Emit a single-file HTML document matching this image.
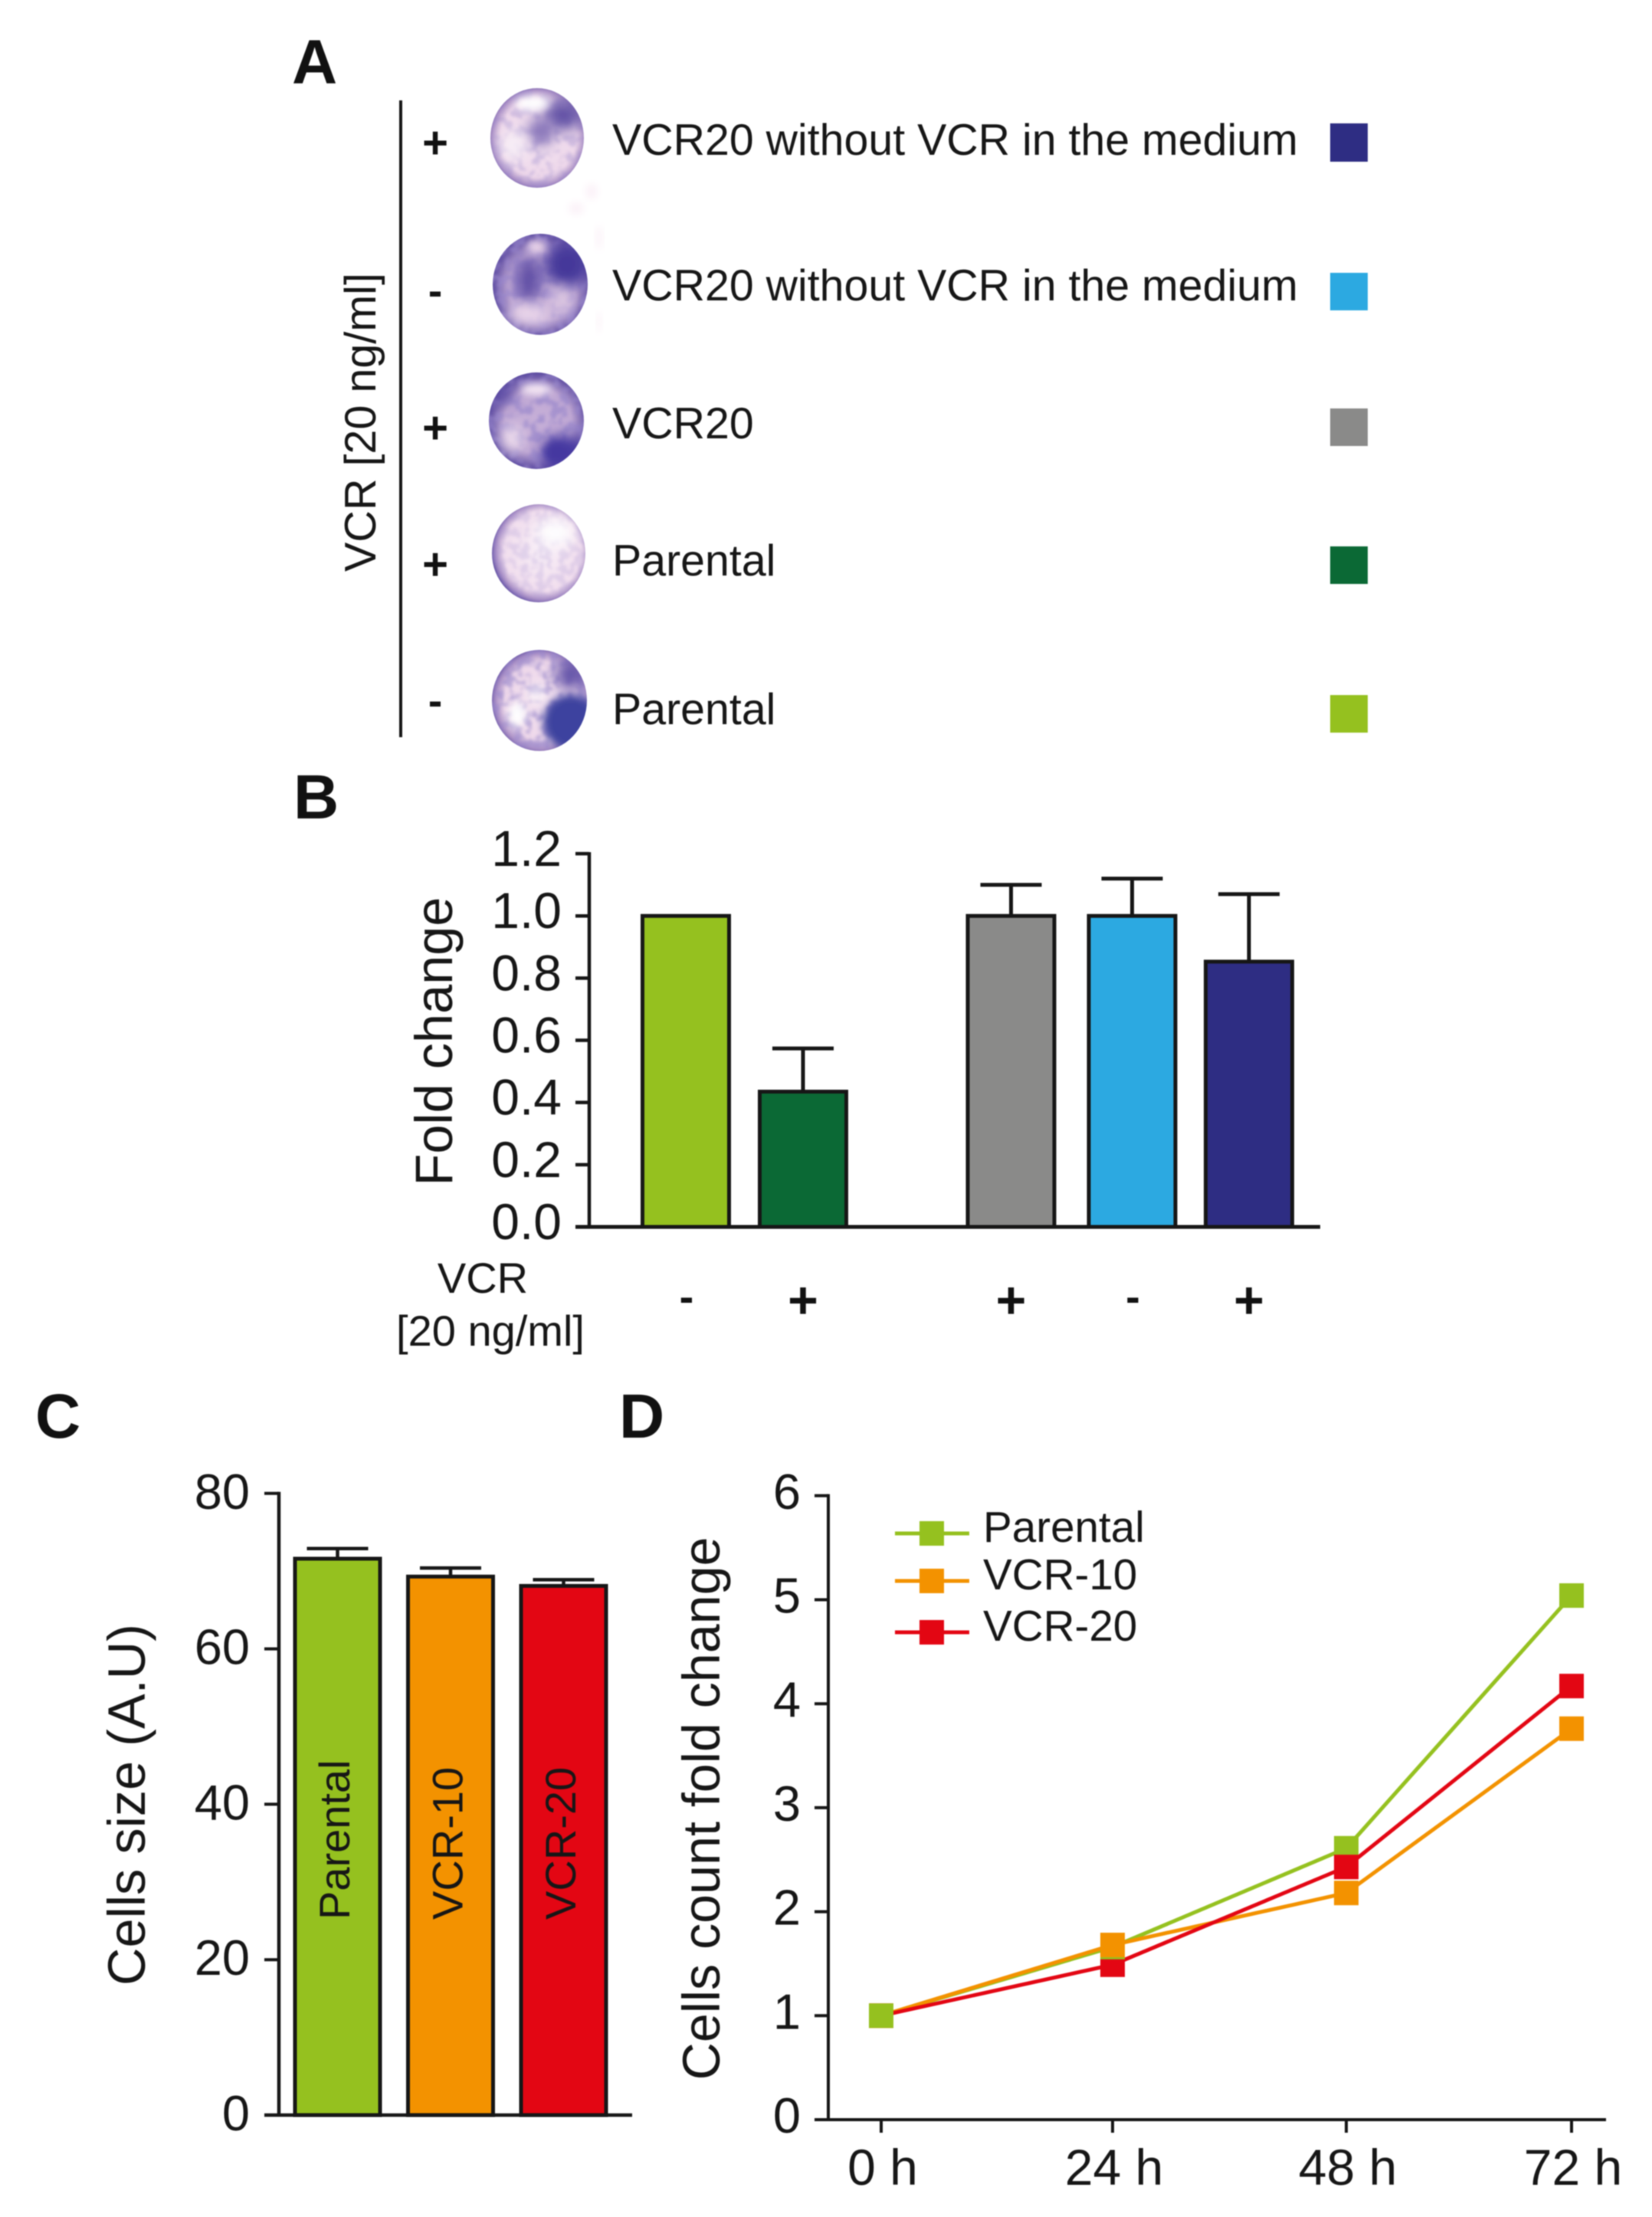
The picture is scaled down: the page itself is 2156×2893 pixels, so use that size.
<!DOCTYPE html>
<html lang="en">
<head>
<meta charset="utf-8">
<title>VCR resistance figure</title>
<style>
html,body{margin:0;padding:0;background:#fff;}
svg{display:block;filter:blur(0.9px);}
text{font-family:"Liberation Sans",Arial,sans-serif;fill:#161616;}
.panel{font-weight:bold;font-size:82px;fill:#111;}
.mark{font-weight:bold;text-anchor:middle;fill:#111;}
</style>
</head>
<body>
<svg id="figure" xmlns="http://www.w3.org/2000/svg" width="2156" height="2893" viewBox="0 0 2156 2893">
<defs>
  <filter id="soft" x="-40%" y="-40%" width="180%" height="180%"><feGaussianBlur stdDeviation="9"/></filter>
  <filter id="softer" x="-40%" y="-40%" width="180%" height="180%"><feGaussianBlur stdDeviation="5"/></filter>
  <filter id="edge" x="-5%" y="-5%" width="110%" height="110%"><feGaussianBlur stdDeviation="1.4"/></filter>
  <filter id="mottle" x="0" y="0" width="100%" height="100%">
    <feTurbulence type="fractalNoise" baseFrequency="0.085" numOctaves="2" seed="7"/>
    <feColorMatrix type="matrix" values="0 0 0 0 0.31  0 0 0 0 0.24  0 0 0 0 0.6  0 0 0 5 -2.2"/>
    <feGaussianBlur stdDeviation="1.2"/>
  </filter>
  <filter id="mottle2" x="0" y="0" width="100%" height="100%">
    <feTurbulence type="fractalNoise" baseFrequency="0.1" numOctaves="2" seed="23"/>
    <feColorMatrix type="matrix" values="0 0 0 0 0.33  0 0 0 0 0.25  0 0 0 0 0.62  0 0 0 6 -2.5"/>
    <feGaussianBlur stdDeviation="1.2"/>
  </filter>
  <radialGradient id="dishLight" cx="50%" cy="50%" r="50%">
    <stop offset="0" stop-color="#f4e3f0"/><stop offset="0.68" stop-color="#eed8ea"/>
    <stop offset="0.84" stop-color="#a78cc4"/><stop offset="0.95" stop-color="#5a4aa1"/><stop offset="1" stop-color="#4b3e97"/>
  </radialGradient>
  <radialGradient id="dishMid" cx="50%" cy="50%" r="50%">
    <stop offset="0" stop-color="#c7b0d8"/><stop offset="0.6" stop-color="#bfa7d3"/>
    <stop offset="0.84" stop-color="#6c59a9"/><stop offset="1" stop-color="#473a96"/>
  </radialGradient>
  <radialGradient id="dishPale" cx="52%" cy="48%" r="50%">
    <stop offset="0" stop-color="#f8eef7"/><stop offset="0.72" stop-color="#f2dfee"/>
    <stop offset="0.87" stop-color="#a68cc4"/><stop offset="0.96" stop-color="#5a4aa1"/><stop offset="1" stop-color="#4b3e97"/>
  </radialGradient>
  <clipPath id="clip1"><ellipse cx="701" cy="180" rx="61" ry="65"/></clipPath>
  <clipPath id="clip2"><ellipse cx="705" cy="371" rx="62" ry="66"/></clipPath>
  <clipPath id="clip3"><ellipse cx="700" cy="549" rx="62" ry="63"/></clipPath>
  <clipPath id="clip4"><ellipse cx="703" cy="722" rx="61" ry="64"/></clipPath>
  <clipPath id="clip5"><ellipse cx="704" cy="914" rx="62" ry="66"/></clipPath>
</defs>
<rect width="2156" height="2893" fill="#fff"/>

<!-- Panel A -->
<g>
  <text class="panel" x="381" y="109">A</text>
  <text font-size="57.5" text-anchor="middle" transform="translate(490 551) rotate(-90)">VCR [20 ng/ml]</text>
  <line x1="523" y1="131" x2="523" y2="962" stroke="#161616" stroke-width="4"/>

  <g fill="#f8e6f2" opacity="0.55">
    <ellipse cx="772" cy="250" rx="8" ry="10" filter="url(#softer)"/>
    <ellipse cx="752" cy="272" rx="10" ry="8" filter="url(#softer)"/>
    <ellipse cx="782" cy="310" rx="4" ry="16" filter="url(#softer)"/>
    <ellipse cx="782" cy="420" rx="3" ry="14" filter="url(#softer)"/>
  </g>

  <g clip-path="url(#clip1)">
    <g filter="url(#edge)">
      <rect x="630" y="105" width="145" height="150" fill="url(#dishLight)"/>
      <rect x="630" y="105" width="145" height="150" filter="url(#mottle)" opacity="0.35"/>
      <ellipse cx="735" cy="150" rx="26" ry="20" fill="#6452a6" filter="url(#soft)"/>
      <ellipse cx="706" cy="172" rx="18" ry="18" fill="#8673b8" filter="url(#soft)"/>
      <ellipse cx="695" cy="135" rx="22" ry="9" fill="#fff" filter="url(#softer)"/>
      <ellipse cx="670" cy="190" rx="16" ry="20" fill="#f8eff7" filter="url(#soft)"/>
    </g>
  </g>
  <g clip-path="url(#clip2)">
    <g filter="url(#edge)">
      <rect x="635" y="298" width="145" height="150" fill="url(#dishMid)"/>
      <rect x="635" y="298" width="145" height="150" filter="url(#mottle2)" opacity="0.6"/>
      <ellipse cx="740" cy="345" rx="30" ry="30" fill="#44399a" filter="url(#soft)"/>
      <ellipse cx="690" cy="365" rx="16" ry="30" fill="#5e4ea4" filter="url(#soft)"/>
      <ellipse cx="690" cy="410" rx="28" ry="13" fill="#f0dcec" filter="url(#soft)"/>
      <ellipse cx="700" cy="322" rx="12" ry="8" fill="#eed8ea" filter="url(#softer)"/>
      <ellipse cx="733" cy="392" rx="12" ry="18" fill="#e2cde4" filter="url(#soft)"/>
    </g>
  </g>
  <g clip-path="url(#clip3)">
    <g filter="url(#edge)">
      <rect x="630" y="480" width="145" height="140" fill="url(#dishMid)"/>
      <rect x="630" y="480" width="145" height="140" filter="url(#mottle)" opacity="0.65"/>
      <ellipse cx="735" cy="590" rx="28" ry="22" fill="#4438a0" filter="url(#soft)"/>
      <ellipse cx="725" cy="590" rx="14" ry="14" fill="#4438a0" filter="url(#softer)"/>
      <ellipse cx="700" cy="508" rx="20" ry="7" fill="#f8ebf5" filter="url(#softer)"/>
      <ellipse cx="668" cy="572" rx="13" ry="18" fill="#f2e2ef" filter="url(#soft)"/>
      <ellipse cx="652" cy="512" rx="16" ry="14" fill="#5a4aa2" filter="url(#soft)"/>
    </g>
  </g>
  <g clip-path="url(#clip4)">
    <g filter="url(#edge)">
      <rect x="635" y="650" width="140" height="145" fill="url(#dishPale)"/>
      <rect x="635" y="650" width="140" height="145" filter="url(#mottle2)" opacity="0.22"/>
      <ellipse cx="725" cy="695" rx="24" ry="18" fill="#fff" filter="url(#soft)"/>
    </g>
  </g>
  <g clip-path="url(#clip5)">
    <g filter="url(#edge)">
      <rect x="635" y="840" width="145" height="150" fill="url(#dishLight)"/>
      <rect x="635" y="840" width="145" height="150" filter="url(#mottle)" opacity="0.6"/>
      <ellipse cx="745" cy="942" rx="36" ry="36" fill="#3c439f" filter="url(#softer)"/>
      <ellipse cx="745" cy="880" rx="20" ry="20" fill="#6353a8" filter="url(#soft)"/>
      <ellipse cx="675" cy="932" rx="11" ry="16" fill="#fff" filter="url(#softer)"/>
      <ellipse cx="700" cy="905" rx="12" ry="12" fill="#fff" filter="url(#softer)" opacity="0.5"/>
    </g>
  </g>

  <g font-size="58">
    <text class="mark" x="568" y="206">+</text>
    <text class="mark" x="568" y="398" font-size="55">-</text>
    <text class="mark" x="568" y="578">+</text>
    <text class="mark" x="568" y="756">+</text>
    <text class="mark" x="568" y="933" font-size="55">-</text>
  </g>
  <g font-size="57.3">
    <text x="799" y="202">VCR20 without VCR in the medium</text>
    <text x="799" y="392">VCR20 without VCR in the medium</text>
    <text x="799" y="572">VCR20</text>
    <text x="799" y="751">Parental</text>
    <text x="799" y="945">Parental</text>
  </g>
  <rect x="1736" y="161" width="49" height="50" fill="#2e2d83"/>
  <rect x="1736" y="356" width="49" height="49" fill="#2ca9e1"/>
  <rect x="1736" y="533" width="49" height="49" fill="#8a8a89"/>
  <rect x="1736" y="713" width="49" height="49" fill="#0b6935"/>
  <rect x="1736" y="907" width="49" height="49" fill="#95c11f"/>
</g>

<!-- Static labels for panels B, C, D -->
<text class="panel" x="383" y="1068">B</text>
<text class="panel" x="46" y="1876">C</text>
<text class="panel" x="808" y="1876">D</text>
<g id="panelB"></g>
<g id="panelC"></g>
<g id="panelD"></g>
</svg>

<script>
// Panel B data
const bCategories = ['parental-no-vcr', 'parental-vcr', 'vcr20-vcr', 'vcr20-no-vcr', 'vcr20-withdrawn-vcr'];
const bValues = [1.0, 0.435, 1.0, 1.0, 0.853];
const bErrorTops = [1.0, 0.574, 1.10, 1.12, 1.07];
const bTreatment = ['-', '+', '+', '-', '+'];
const bColors = ['#95c11f', '#0b6935', '#8a8a89', '#2ca9e1', '#2e2d83'];
const bTickLabels = ['0.0', '0.2', '0.4', '0.6', '0.8', '1.0', '1.2'];

// Panel C data
const cCategories = ['Parental', 'VCR-10', 'VCR-20'];
const cValues = [71.6, 69.3, 68.1];
const cErrorTops = [72.9, 70.4, 68.9];
const cColors = ['#95c11f', '#f39200', '#e30613'];
const cTickLabels = ['0', '20', '40', '60', '80'];

// Panel D data
const dTimes = ['0 h', '24 h', '48 h', '72 h'];
const dParental = [1.0, 1.66, 2.61, 5.04];
const dVcr10 = [1.0, 1.68, 2.18, 3.76];
const dVcr20 = [1.0, 1.49, 2.43, 4.17];
const dSeriesNames = ['Parental', 'VCR-10', 'VCR-20'];
const dSeriesColors = ['#95c11f', '#f39200', '#e30613'];
const dTickLabels = ['0', '1', '2', '3', '4', '5', '6'];
// which series is painted on top at each time point (last = topmost)
const dStackOrder = [[2, 1, 0], [2, 0, 1], [0, 1, 2], [0, 1, 2]];

const NS = 'http://www.w3.org/2000/svg';
const INK = '#161616';

function make(parent, tag, attrs, content) {
  const el = document.createElementNS(NS, tag);
  for (const k in attrs) el.setAttribute(k, attrs[k]);
  if (content !== undefined) el.textContent = content;
  parent.appendChild(el);
  return el;
}

// ---------- Panel B ----------
const pb = document.getElementById('panelB');
function yB(v) { return 1601 - v * 405.8; }
function xB(i) { const centers = [895, 1048, 1319.5, 1477.5, 1630]; return centers[i]; }

bCategories.forEach(function (name, i) {
  const cx = xB(i);
  if (bErrorTops[i] > bValues[i]) {
    const stem = make(pb, 'line', {x1: cx, x2: cx, y1: yB(bValues[i]), y2: yB(bErrorTops[i]), stroke: INK, 'stroke-width': 5});
    
    
    const cap = make(pb, 'line', {x1: cx - 40, x2: cx + 40, y1: yB(bErrorTops[i]), y2: yB(bErrorTops[i]), stroke: INK, 'stroke-width': 5});
    
    
  }
  const bar = make(pb, 'rect', {x: cx - 56.5, width: 113, y: yB(bValues[i]), height: yB(0) - yB(bValues[i]), fill: bColors[i], stroke: INK, 'stroke-width': 5});
  
  
  const isPlus = bTreatment[i] === '+';
  const sign = make(pb, 'text', {x: cx + (isPlus ? 0 : 1), y: isPlus ? 1720 : 1711, 'font-size': isPlus ? 68 : 56, class: 'mark'}, bTreatment[i]);
  
  
});

const bYAxis = make(pb, 'line', {x1: 769, x2: 769, y1: yB(1.2) - 2, y2: yB(0), stroke: INK, 'stroke-width': 4.5});


const bXAxis = make(pb, 'line', {x1: 751, x2: 1723, y1: yB(0), y2: yB(0), stroke: INK, 'stroke-width': 5});



bTickLabels.forEach(function (label) {
  const v = parseFloat(label);
  const tick = make(pb, 'line', {x1: 751, x2: 769, y1: yB(v), y2: yB(v), stroke: INK, 'stroke-width': 4.5});
  
  
  const t = make(pb, 'text', {x: 733, y: yB(v) + 16, 'font-size': 66, 'text-anchor': 'end'}, label);
  
  
});

const bTitle = make(pb, 'text', {transform: 'translate(590 1359) rotate(-90)', 'font-size': 68.5, 'text-anchor': 'middle'}, 'Fold change');


const bVcr = make(pb, 'text', {x: 630, y: 1687, 'font-size': 56, 'text-anchor': 'middle'}, 'VCR');


const bDose = make(pb, 'text', {x: 640, y: 1756, 'font-size': 56, 'text-anchor': 'middle'}, '[20 ng/ml]');



// ---------- Panel C ----------
const pc = document.getElementById('panelC');
function yC(v) { return 2760 - v * 10.14; }
function xC(i) { return 440.5 + i * 147.5; }

cCategories.forEach(function (name, i) {
  const cx = xC(i);
  const slug = name.toLowerCase();
  const stem = make(pc, 'line', {x1: cx, x2: cx, y1: yC(cValues[i]), y2: yC(cErrorTops[i]), stroke: INK, 'stroke-width': 4.5});
  
  
  const cap = make(pc, 'line', {x1: cx - 40, x2: cx + 40, y1: yC(cErrorTops[i]), y2: yC(cErrorTops[i]), stroke: INK, 'stroke-width': 4.5});
  
  
  const bar = make(pc, 'rect', {x: cx - 55.5, width: 111, y: yC(cValues[i]), height: yC(0) - yC(cValues[i]), fill: cColors[i], stroke: INK, 'stroke-width': 5});
  
  
  const label = make(pc, 'text', {transform: 'translate(' + (cx + 15.5) + ' 2505) rotate(-90)', 'font-size': 56}, name);
  
  
});

const cYAxis = make(pc, 'line', {x1: 364, x2: 364, y1: yC(80) - 2, y2: yC(0), stroke: INK, 'stroke-width': 4.5});


const cXAxis = make(pc, 'line', {x1: 345, x2: 825, y1: yC(0), y2: yC(0), stroke: INK, 'stroke-width': 4.5});



cTickLabels.forEach(function (label) {
  const v = parseFloat(label);
  const tick = make(pc, 'line', {x1: 345, x2: 364, y1: yC(v), y2: yC(v), stroke: INK, 'stroke-width': 4});
  
  
  const t = make(pc, 'text', {x: 326, y: yC(v) + 20, 'font-size': 65, 'text-anchor': 'end'}, label);
  
  
});

const cTitle = make(pc, 'text', {transform: 'translate(189 2355) rotate(-90)', 'font-size': 68.5, 'text-anchor': 'middle'}, 'Cells size (A.U)');



// ---------- Panel D ----------
const pd = document.getElementById('panelD');
const dSeries = [dParental, dVcr10, dVcr20];
function yD(v) { return 2766 - v * 135.7; }
function xD(i) { const centers = [1150, 1452, 1757, 2051]; return centers[i]; }

const dYAxis = make(pd, 'line', {x1: 1081, x2: 1081, y1: yD(6) - 2, y2: yD(0), stroke: INK, 'stroke-width': 4});


const dXAxis = make(pd, 'line', {x1: 1063, x2: 2096, y1: yD(0), y2: yD(0), stroke: INK, 'stroke-width': 4});



dTickLabels.forEach(function (label) {
  const v = parseFloat(label);
  const tick = make(pd, 'line', {x1: 1063, x2: 1081, y1: yD(v), y2: yD(v), stroke: INK, 'stroke-width': 4});
  
  
  const t = make(pd, 'text', {x: 1045, y: yD(v) + 17, 'font-size': 65, 'text-anchor': 'end'}, label);
  
  
});

dTimes.forEach(function (label, i) {
  const tick = make(pd, 'line', {x1: xD(i), x2: xD(i), y1: yD(0), y2: 2783, stroke: INK, 'stroke-width': 4});
  
  
  const t = make(pd, 'text', {x: xD(i) + 2, y: 2851, 'font-size': 66, 'text-anchor': 'middle'}, label);
  
  
});

const dTitle = make(pd, 'text', {transform: 'translate(939 2360) rotate(-90)', 'font-size': 68.2, 'text-anchor': 'middle'}, 'Cells count fold change');



dSeries.forEach(function (values, s) {
  const pts = values.map(function (v, i) { return xD(i) + ',' + yD(v); }).join(' ');
  const line = make(pd, 'polyline', {points: pts, fill: 'none', stroke: dSeriesColors[s], 'stroke-width': 5, 'stroke-linejoin': 'miter'});
  
  
});

dTimes.forEach(function (time, i) {
  dStackOrder[i].forEach(function (s) {
    const m = make(pd, 'rect', {x: xD(i) - 16, y: yD(dSeries[s][i]) - 16, width: 32, height: 32, fill: dSeriesColors[s]});
    
    
  });
});

dSeriesNames.forEach(function (name, s) {
  const rowY = [2001, 2063, 2130][s];
  const slug = name.toLowerCase();
  const line = make(pd, 'line', {x1: 1168, x2: 1265, y1: rowY, y2: rowY, stroke: dSeriesColors[s], 'stroke-width': 5});
  
  
  const sw = make(pd, 'rect', {x: 1200, y: rowY - 16, width: 32, height: 32, fill: dSeriesColors[s]});
  
  
  const t = make(pd, 'text', {x: 1283, y: rowY + 11, 'font-size': 56.6}, name);
  
  
});
</script>
</body>
</html>
